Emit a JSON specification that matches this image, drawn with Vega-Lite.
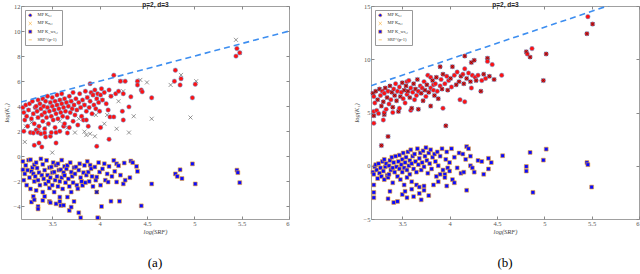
{
"$schema":"https://vega.github.io/schema/vega-lite/v6.json",
"padding":{"left":3,"top":1,"right":2,"bottom":0},
"resolve":{"scale":{"shape":"independent"},"legend":{"shape":"independent"}},
"config":{"view":{"stroke":null},"concat":{"spacing":63},
"axis":{"labelFont":"Liberation Serif","labelFontSize":6.5,"labelColor":"#555","tickColor":"#888","domainColor":"#888","domainWidth":0.8,"tickSize":-3,"labelPadding":4,"titleFont":"Liberation Serif","titleFontSize":6.5,"titleFontStyle":"italic","titleFontWeight":"normal","titleColor":"#444","grid":false,"format":"~g"},
"title":{"font":"Liberation Serif","fontSize":13,"fontWeight":"normal","color":"#000","orient":"bottom","offset":22},
"legend":{"title":null,"orient":"top-left","offset":4,"padding":3,"strokeColor":"#999","fillColor":"white","labelFont":"Liberation Serif","labelFontSize":4.5,"labelColor":"#333","symbolSize":10,"rowPadding":1.2,"labelOffset":5,"symbolStrokeWidth":0.6}},
"datasets":{
"aKs":[{"x":3.19,"y":3.9},{"x":3.2,"y":3.5},{"x":3.2,"y":2.0},{"x":3.21,"y":2.9},{"x":3.22,"y":4.1},{"x":3.23,"y":3.2},{"x":3.24,"y":2.4},{"x":3.25,"y":3.7},{"x":3.26,"y":4.2},{"x":3.27,"y":1.9},{"x":3.28,"y":3.0},{"x":3.29,"y":4.4},{"x":3.3,"y":3.4},{"x":3.3,"y":1.87},{"x":3.31,"y":2.6},{"x":3.31,"y":0.88},{"x":3.32,"y":3.9},{"x":3.33,"y":4.0},{"x":3.33,"y":2.1},{"x":3.34,"y":3.6},{"x":3.35,"y":4.5},{"x":3.35,"y":3.1},{"x":3.35,"y":1.9},{"x":3.36,"y":2.4},{"x":3.36,"y":1.07},{"x":3.37,"y":4.2},{"x":3.38,"y":3.8},{"x":3.38,"y":1.8},{"x":3.39,"y":3.3},{"x":3.39,"y":0.75},{"x":3.4,"y":4.6},{"x":3.4,"y":2.8},{"x":3.41,"y":4.0},{"x":3.42,"y":3.5},{"x":3.42,"y":2.2},{"x":3.42,"y":1.87},{"x":3.43,"y":4.4},{"x":3.43,"y":1.55},{"x":3.44,"y":3.1},{"x":3.45,"y":3.9},{"x":3.45,"y":4.8},{"x":3.46,"y":2.6},{"x":3.47,"y":3.6},{"x":3.48,"y":4.3},{"x":3.48,"y":1.6},{"x":3.49,"y":3.2},{"x":3.49,"y":1.9},{"x":3.5,"y":4.0},{"x":3.5,"y":4.7},{"x":3.51,"y":2.9},{"x":3.52,"y":3.7},{"x":3.53,"y":4.4},{"x":3.53,"y":2.3},{"x":3.54,"y":3.4},{"x":3.54,"y":1.9},{"x":3.54,"y":1.07},{"x":3.55,"y":4.1},{"x":3.55,"y":4.9},{"x":3.56,"y":3.0},{"x":3.57,"y":3.8},{"x":3.58,"y":4.5},{"x":3.58,"y":2.0},{"x":3.59,"y":3.5},{"x":3.6,"y":4.2},{"x":3.6,"y":5.0},{"x":3.61,"y":3.2},{"x":3.62,"y":3.9},{"x":3.62,"y":2.4},{"x":3.63,"y":4.6},{"x":3.63,"y":2.6},{"x":3.64,"y":3.6},{"x":3.65,"y":4.3},{"x":3.66,"y":3.1},{"x":3.66,"y":1.87},{"x":3.67,"y":4.0},{"x":3.68,"y":4.8},{"x":3.68,"y":2.3},{"x":3.69,"y":3.5},{"x":3.7,"y":4.4},{"x":3.71,"y":3.8},{"x":3.72,"y":5.1},{"x":3.72,"y":2.8},{"x":3.73,"y":4.1},{"x":3.74,"y":3.3},{"x":3.75,"y":4.6},{"x":3.76,"y":3.7},{"x":3.77,"y":2.5},{"x":3.78,"y":4.3},{"x":3.79,"y":5.0},{"x":3.8,"y":3.9},{"x":3.81,"y":3.2},{"x":3.82,"y":4.5},{"x":3.83,"y":2.9},{"x":3.84,"y":4.1},{"x":3.85,"y":5.2},{"x":3.86,"y":3.6},{"x":3.86,"y":2.9},{"x":3.87,"y":4.7},{"x":3.88,"y":2.4},{"x":3.89,"y":3.9},{"x":3.9,"y":4.4},{"x":3.9,"y":5.8},{"x":3.91,"y":5.1},{"x":3.92,"y":3.4},{"x":3.93,"y":4.9},{"x":3.94,"y":4.1},{"x":3.95,"y":5.3},{"x":3.96,"y":3.8},{"x":3.97,"y":4.6},{"x":3.97,"y":0.8},{"x":3.98,"y":5.0},{"x":3.99,"y":4.3},{"x":4.0,"y":3.6},{"x":4.01,"y":4.9},{"x":4.01,"y":2.3},{"x":4.02,"y":5.4},{"x":4.03,"y":4.5},{"x":4.05,"y":5.1},{"x":4.07,"y":4.2},{"x":4.09,"y":3.7},{"x":4.1,"y":5.3},{"x":4.1,"y":1.36},{"x":4.11,"y":3.15},{"x":4.12,"y":4.8},{"x":4.15,"y":3.15},{"x":4.15,"y":6.48},{"x":4.17,"y":5.0},{"x":4.2,"y":5.2},{"x":4.22,"y":6.0},{"x":4.24,"y":3.6},{"x":4.25,"y":2.9},{"x":4.25,"y":5.0},{"x":4.27,"y":6.0},{"x":4.31,"y":3.95},{"x":4.33,"y":4.75},{"x":4.4,"y":6.0},{"x":4.4,"y":5.7},{"x":4.44,"y":5.3},{"x":4.45,"y":5.15},{"x":4.55,"y":4.67},{"x":4.79,"y":6.0},{"x":4.8,"y":6.88},{"x":4.85,"y":5.7},{"x":4.86,"y":6.2},{"x":4.98,"y":4.67},{"x":5.01,"y":5.76},{"x":5.44,"y":8.0},{"x":5.45,"y":8.6},{"x":5.48,"y":8.26}],
"aKss":[{"x":3.25,"y":3.7},{"x":3.3,"y":3.4},{"x":3.35,"y":3.1},{"x":3.4,"y":4.6},{"x":3.42,"y":3.5},{"x":3.45,"y":3.9},{"x":3.48,"y":4.3},{"x":3.52,"y":3.7},{"x":3.55,"y":4.1},{"x":3.58,"y":4.5},{"x":3.6,"y":4.2},{"x":3.63,"y":4.6},{"x":3.65,"y":4.3},{"x":3.67,"y":4.0},{"x":3.7,"y":4.4},{"x":3.73,"y":4.1},{"x":3.76,"y":3.7},{"x":3.8,"y":3.9},{"x":3.84,"y":4.1},{"x":3.87,"y":4.7},{"x":3.93,"y":4.9},{"x":3.97,"y":4.6},{"x":4.03,"y":4.5},{"x":4.12,"y":4.8},{"x":4.22,"y":6.0},{"x":4.43,"y":6.1},{"x":4.86,"y":6.5},{"x":5.02,"y":6.0},{"x":5.48,"y":8.26},{"x":5.44,"y":9.3},{"x":3.22,"y":2.4},{"x":3.21,"y":1.15},{"x":3.28,"y":2.7},{"x":3.36,"y":2.2},{"x":3.45,"y":2.5},{"x":3.58,"y":2.8},{"x":3.66,"y":2.3},{"x":3.74,"y":1.9},{"x":3.78,"y":3.0},{"x":3.84,"y":1.97},{"x":3.86,"y":1.7},{"x":3.9,"y":1.8},{"x":3.95,"y":1.6},{"x":3.96,"y":3.3},{"x":4.05,"y":2.6},{"x":4.08,"y":3.3},{"x":4.18,"y":2.2},{"x":4.31,"y":1.9},{"x":4.36,"y":3.2},{"x":4.55,"y":3.0},{"x":4.96,"y":3.1},{"x":3.97,"y":-2.85},{"x":3.5,"y":0.3},{"x":4.25,"y":5.2},{"x":4.5,"y":5.9},{"x":4.2,"y":4.4},{"x":4.75,"y":5.7}],
"aKws":[{"x":3.19,"y":-1.07},{"x":3.19,"y":-0.4},{"x":3.2,"y":-1.9},{"x":3.21,"y":-1.4},{"x":3.22,"y":-0.72},{"x":3.23,"y":-2.3},{"x":3.24,"y":-1.1},{"x":3.25,"y":-0.3},{"x":3.26,"y":-1.7},{"x":3.27,"y":-0.27},{"x":3.27,"y":-2.6},{"x":3.28,"y":-3.65},{"x":3.28,"y":-1.2},{"x":3.29,"y":-0.9},{"x":3.3,"y":-1.39},{"x":3.3,"y":-3.2},{"x":3.31,"y":-0.67},{"x":3.31,"y":-3.47},{"x":3.31,"y":-2.0},{"x":3.32,"y":-1.6},{"x":3.33,"y":-2.72},{"x":3.33,"y":-0.5},{"x":3.34,"y":-0.93},{"x":3.35,"y":-4.0},{"x":3.35,"y":-4.2},{"x":3.35,"y":-1.9},{"x":3.36,"y":-1.3},{"x":3.37,"y":-2.3},{"x":3.38,"y":-0.2},{"x":3.39,"y":-1.5},{"x":3.4,"y":-0.64},{"x":3.4,"y":-2.85},{"x":3.4,"y":-3.52},{"x":3.41,"y":-1.8},{"x":3.42,"y":-1.1},{"x":3.42,"y":-3.2},{"x":3.43,"y":-2.2},{"x":3.44,"y":-0.32},{"x":3.45,"y":-1.5},{"x":3.46,"y":-2.0},{"x":3.47,"y":-2.53},{"x":3.47,"y":-3.6},{"x":3.47,"y":-0.9},{"x":3.48,"y":-1.7},{"x":3.48,"y":-3.7},{"x":3.49,"y":-0.85},{"x":3.5,"y":-1.3},{"x":3.5,"y":-2.3},{"x":3.51,"y":-0.5},{"x":3.52,"y":-1.25},{"x":3.52,"y":-2.85},{"x":3.53,"y":-1.9},{"x":3.54,"y":-3.79},{"x":3.54,"y":-0.7},{"x":3.55,"y":-1.6},{"x":3.56,"y":-0.59},{"x":3.56,"y":-2.4},{"x":3.57,"y":-1.1},{"x":3.58,"y":-3.25},{"x":3.58,"y":-3.6},{"x":3.58,"y":-2.0},{"x":3.59,"y":-1.07},{"x":3.59,"y":-3.92},{"x":3.6,"y":-1.7},{"x":3.6,"y":-0.3},{"x":3.61,"y":-2.6},{"x":3.62,"y":-1.3},{"x":3.62,"y":-3.9},{"x":3.63,"y":-1.52},{"x":3.63,"y":-0.8},{"x":3.64,"y":-2.1},{"x":3.65,"y":-1.0},{"x":3.66,"y":-0.72},{"x":3.66,"y":-3.25},{"x":3.67,"y":-1.8},{"x":3.68,"y":-4.32},{"x":3.68,"y":-2.4},{"x":3.69,"y":-0.5},{"x":3.7,"y":-1.25},{"x":3.7,"y":-2.85},{"x":3.7,"y":-4.05},{"x":3.71,"y":-1.6},{"x":3.72,"y":-2.1},{"x":3.73,"y":-3.6},{"x":3.73,"y":-0.9},{"x":3.74,"y":-1.4},{"x":3.75,"y":-0.85},{"x":3.76,"y":-2.3},{"x":3.77,"y":-2.59},{"x":3.78,"y":-1.1},{"x":3.78,"y":-4.5},{"x":3.79,"y":-0.59},{"x":3.8,"y":-4.9},{"x":3.8,"y":-1.7},{"x":3.81,"y":-2.0},{"x":3.82,"y":-2.32},{"x":3.83,"y":-1.3},{"x":3.84,"y":-0.72},{"x":3.85,"y":-2.1},{"x":3.86,"y":-1.5},{"x":3.87,"y":-0.4},{"x":3.88,"y":-1.25},{"x":3.89,"y":-2.0},{"x":3.9,"y":-0.7},{"x":3.91,"y":-0.99},{"x":3.92,"y":-1.6},{"x":3.93,"y":-2.4},{"x":3.95,"y":-0.85},{"x":3.96,"y":-1.9},{"x":3.97,"y":-1.65},{"x":3.97,"y":-2.85},{"x":3.98,"y":-4.9},{"x":3.99,"y":-0.5},{"x":4.0,"y":-1.25},{"x":4.01,"y":-2.3},{"x":4.02,"y":-4.0},{"x":4.03,"y":-1.0},{"x":4.05,"y":-0.59},{"x":4.06,"y":-1.9},{"x":4.08,"y":-1.4},{"x":4.09,"y":-2.05},{"x":4.1,"y":-0.8},{"x":4.12,"y":-3.58},{"x":4.13,"y":-1.6},{"x":4.15,"y":-0.32},{"x":4.16,"y":-1.2},{"x":4.18,"y":-0.59},{"x":4.18,"y":-2.05},{"x":4.2,"y":-0.75},{"x":4.21,"y":-3.58},{"x":4.22,"y":-1.5},{"x":4.25,"y":-2.2},{"x":4.26,"y":-0.53},{"x":4.27,"y":-1.9},{"x":4.32,"y":-1.7},{"x":4.33,"y":-0.37},{"x":4.35,"y":-0.5},{"x":4.39,"y":-0.8},{"x":4.4,"y":-1.2},{"x":4.44,"y":-3.95},{"x":4.55,"y":-2.2},{"x":4.8,"y":-1.4},{"x":4.82,"y":-1.6},{"x":4.85,"y":-1.07},{"x":4.87,"y":-1.77},{"x":4.98,"y":-0.6},{"x":5.01,"y":-2.2},{"x":5.45,"y":-1.1},{"x":5.46,"y":-1.3},{"x":5.48,"y":-2.1}],
"aLine":[{"x":3.17,"y":4.34},{"x":6,"y":10}],
"bKs":[{"x":3.19,"y":6.8},{"x":3.2,"y":6.5},{"x":3.2,"y":4.7},{"x":3.2,"y":4.0},{"x":3.2,"y":5.1},{"x":3.21,"y":5.9},{"x":3.22,"y":7.0},{"x":3.23,"y":5.2},{"x":3.24,"y":6.2},{"x":3.25,"y":4.9},{"x":3.26,"y":7.2},{"x":3.27,"y":6.6},{"x":3.28,"y":5.6},{"x":3.28,"y":1.9},{"x":3.29,"y":7.0},{"x":3.3,"y":6.0},{"x":3.3,"y":4.3},{"x":3.31,"y":6.8},{"x":3.31,"y":4.8},{"x":3.31,"y":5.0},{"x":3.32,"y":7.3},{"x":3.33,"y":5.3},{"x":3.34,"y":6.4},{"x":3.35,"y":7.0},{"x":3.35,"y":2.75},{"x":3.36,"y":5.8},{"x":3.37,"y":7.5},{"x":3.38,"y":6.2},{"x":3.39,"y":6.9},{"x":3.4,"y":5.5},{"x":3.4,"y":5.0},{"x":3.41,"y":7.2},{"x":3.42,"y":6.6},{"x":3.43,"y":7.7},{"x":3.44,"y":6.1},{"x":3.45,"y":7.0},{"x":3.46,"y":5.1},{"x":3.47,"y":7.4},{"x":3.47,"y":5.4},{"x":3.48,"y":6.5},{"x":3.49,"y":6.9},{"x":3.5,"y":7.8},{"x":3.51,"y":6.3},{"x":3.52,"y":7.1},{"x":3.53,"y":5.9},{"x":3.54,"y":7.5},{"x":3.55,"y":6.7},{"x":3.55,"y":7.9},{"x":3.56,"y":7.0},{"x":3.57,"y":8.0},{"x":3.58,"y":6.4},{"x":3.59,"y":7.3},{"x":3.59,"y":5.2},{"x":3.6,"y":5.4},{"x":3.61,"y":6.9},{"x":3.62,"y":7.7},{"x":3.63,"y":6.2},{"x":3.64,"y":7.2},{"x":3.65,"y":6.6},{"x":3.66,"y":8.1},{"x":3.67,"y":7.0},{"x":3.67,"y":5.3},{"x":3.69,"y":7.5},{"x":3.7,"y":6.8},{"x":3.71,"y":7.3},{"x":3.72,"y":6.1},{"x":3.73,"y":7.9},{"x":3.74,"y":7.1},{"x":3.75,"y":6.5},{"x":3.76,"y":7.6},{"x":3.77,"y":8.5},{"x":3.78,"y":6.9},{"x":3.8,"y":7.3},{"x":3.8,"y":5.6},{"x":3.8,"y":8.3},{"x":3.82,"y":8.0},{"x":3.83,"y":7.1},{"x":3.83,"y":7.6},{"x":3.84,"y":6.6},{"x":3.85,"y":7.7},{"x":3.86,"y":8.3},{"x":3.87,"y":7.0},{"x":3.88,"y":6.3},{"x":3.9,"y":7.5},{"x":3.9,"y":9.3},{"x":3.91,"y":8.1},{"x":3.92,"y":7.2},{"x":3.93,"y":5.4},{"x":3.93,"y":8.6},{"x":3.95,"y":7.7},{"x":3.96,"y":3.75},{"x":3.97,"y":8.4},{"x":3.98,"y":7.1},{"x":3.99,"y":8.0},{"x":4.01,"y":8.2},{"x":4.02,"y":7.4},{"x":4.03,"y":9.3},{"x":4.05,"y":8.5},{"x":4.07,"y":7.6},{"x":4.08,"y":8.8},{"x":4.1,"y":7.9},{"x":4.11,"y":6.2},{"x":4.12,"y":8.4},{"x":4.14,"y":8.6},{"x":4.15,"y":7.7},{"x":4.16,"y":9.1},{"x":4.16,"y":10.3},{"x":4.16,"y":6.0},{"x":4.18,"y":8.2},{"x":4.2,"y":8.7},{"x":4.22,"y":7.9},{"x":4.23,"y":9.7},{"x":4.23,"y":7.3},{"x":4.24,"y":8.5},{"x":4.26,"y":9.9},{"x":4.27,"y":8.3},{"x":4.28,"y":8.0},{"x":4.3,"y":8.5},{"x":4.33,"y":7.0},{"x":4.34,"y":8.0},{"x":4.36,"y":8.6},{"x":4.38,"y":8.2},{"x":4.4,"y":10.1},{"x":4.4,"y":9.8},{"x":4.42,"y":8.4},{"x":4.45,"y":9.5},{"x":4.47,"y":8.1},{"x":4.55,"y":8.5},{"x":4.81,"y":10.7},{"x":4.82,"y":10.5},{"x":4.85,"y":10.2},{"x":4.87,"y":11.0},{"x":4.99,"y":8.0},{"x":5.02,"y":10.5},{"x":5.45,"y":12.4},{"x":5.46,"y":14.0},{"x":5.51,"y":13.3}],
"bKss":[{"x":3.19,"y":6.8},{"x":3.2,"y":4.7},{"x":3.22,"y":7.0},{"x":3.24,"y":6.2},{"x":3.26,"y":7.2},{"x":3.28,"y":5.6},{"x":3.28,"y":1.9},{"x":3.3,"y":6.0},{"x":3.31,"y":4.8},{"x":3.32,"y":7.3},{"x":3.34,"y":6.4},{"x":3.35,"y":2.75},{"x":3.37,"y":7.5},{"x":3.39,"y":6.9},{"x":3.4,"y":5.5},{"x":3.42,"y":6.6},{"x":3.44,"y":6.1},{"x":3.46,"y":5.1},{"x":3.48,"y":6.5},{"x":3.5,"y":7.8},{"x":3.52,"y":7.1},{"x":3.54,"y":7.5},{"x":3.56,"y":7.0},{"x":3.58,"y":6.4},{"x":3.6,"y":5.4},{"x":3.62,"y":7.7},{"x":3.64,"y":7.2},{"x":3.66,"y":8.1},{"x":3.67,"y":5.3},{"x":3.7,"y":6.8},{"x":3.72,"y":6.1},{"x":3.74,"y":7.1},{"x":3.76,"y":7.6},{"x":3.78,"y":6.9},{"x":3.8,"y":5.6},{"x":3.82,"y":8.0},{"x":3.84,"y":6.6},{"x":3.86,"y":8.3},{"x":3.88,"y":6.3},{"x":3.9,"y":9.3},{"x":3.92,"y":7.2},{"x":3.93,"y":8.6},{"x":3.96,"y":3.75},{"x":3.98,"y":7.1},{"x":4.01,"y":8.2},{"x":4.03,"y":9.3},{"x":4.07,"y":7.6},{"x":4.1,"y":7.9},{"x":4.12,"y":8.4},{"x":4.15,"y":7.7},{"x":4.16,"y":10.3},{"x":4.18,"y":8.2},{"x":4.22,"y":7.9},{"x":4.23,"y":9.7},{"x":4.26,"y":9.9},{"x":4.28,"y":8.0},{"x":4.33,"y":7.0},{"x":4.36,"y":8.6},{"x":4.4,"y":10.1},{"x":4.42,"y":8.4},{"x":4.47,"y":8.1},{"x":4.81,"y":10.7},{"x":4.85,"y":10.2},{"x":4.99,"y":8.0},{"x":5.02,"y":10.5},{"x":5.45,"y":12.4},{"x":5.51,"y":13.3}],
"bKws":[{"x":3.19,"y":-0.6},{"x":3.2,"y":-0.8},{"x":3.2,"y":-1.8},{"x":3.2,"y":-2.5},{"x":3.2,"y":-3.0},{"x":3.21,"y":-0.1},{"x":3.22,"y":0.1},{"x":3.23,"y":-0.4},{"x":3.24,"y":-1.2},{"x":3.25,"y":0.2},{"x":3.26,"y":-0.7},{"x":3.27,"y":-0.2},{"x":3.28,"y":-1.0},{"x":3.29,"y":0.4},{"x":3.3,"y":-0.5},{"x":3.31,"y":-1.3},{"x":3.31,"y":0.6},{"x":3.32,"y":-0.1},{"x":3.33,"y":0.2},{"x":3.34,"y":-0.9},{"x":3.35,"y":-1.1},{"x":3.35,"y":-3.1},{"x":3.36,"y":0.0},{"x":3.36,"y":-0.8},{"x":3.37,"y":-2.4},{"x":3.37,"y":0.5},{"x":3.38,"y":-0.4},{"x":3.39,"y":0.8},{"x":3.4,"y":-0.2},{"x":3.4,"y":-1.6},{"x":3.41,"y":-3.45},{"x":3.41,"y":0.3},{"x":3.42,"y":-0.6},{"x":3.43,"y":0.9},{"x":3.44,"y":-0.1},{"x":3.45,"y":-3.35},{"x":3.45,"y":-1.0},{"x":3.46,"y":0.4},{"x":3.47,"y":-0.3},{"x":3.47,"y":1.0},{"x":3.48,"y":-1.3},{"x":3.49,"y":0.1},{"x":3.5,"y":0.6},{"x":3.5,"y":-0.6},{"x":3.5,"y":-2.7},{"x":3.51,"y":1.2},{"x":3.52,"y":-1.8},{"x":3.52,"y":-0.2},{"x":3.53,"y":-2.4},{"x":3.53,"y":0.3},{"x":3.54,"y":0.8},{"x":3.55,"y":-0.4},{"x":3.55,"y":-1.1},{"x":3.55,"y":-3.0},{"x":3.56,"y":1.3},{"x":3.57,"y":0.0},{"x":3.58,"y":0.5},{"x":3.58,"y":-0.8},{"x":3.59,"y":1.5},{"x":3.6,"y":-1.5},{"x":3.6,"y":-2.2},{"x":3.6,"y":0.2},{"x":3.61,"y":0.9},{"x":3.62,"y":-0.3},{"x":3.62,"y":-2.9},{"x":3.63,"y":1.1},{"x":3.64,"y":0.4},{"x":3.65,"y":-1.8},{"x":3.65,"y":-0.6},{"x":3.66,"y":1.6},{"x":3.67,"y":0.1},{"x":3.68,"y":-2.0},{"x":3.68,"y":-2.6},{"x":3.68,"y":0.7},{"x":3.69,"y":1.2},{"x":3.7,"y":-0.4},{"x":3.7,"y":-3.2},{"x":3.71,"y":0.3},{"x":3.72,"y":1.4},{"x":3.73,"y":-1.9},{"x":3.73,"y":-2.3},{"x":3.73,"y":-0.1},{"x":3.74,"y":0.9},{"x":3.75,"y":1.7},{"x":3.76,"y":0.5},{"x":3.77,"y":-0.7},{"x":3.78,"y":1.2},{"x":3.78,"y":-2.8},{"x":3.79,"y":0.2},{"x":3.8,"y":1.5},{"x":3.81,"y":-0.3},{"x":3.82,"y":0.8},{"x":3.83,"y":-1.8},{"x":3.84,"y":1.1},{"x":3.85,"y":0.4},{"x":3.86,"y":-1.0},{"x":3.87,"y":1.3},{"x":3.88,"y":0.0},{"x":3.88,"y":-1.5},{"x":3.9,"y":-0.8},{"x":3.9,"y":0.9},{"x":3.92,"y":1.6},{"x":3.93,"y":-0.4},{"x":3.95,"y":-0.8},{"x":3.95,"y":-1.1},{"x":3.96,"y":0.6},{"x":3.97,"y":1.3},{"x":3.97,"y":-1.9},{"x":3.98,"y":-0.2},{"x":4.0,"y":-0.5},{"x":4.0,"y":0.3},{"x":4.02,"y":1.6},{"x":4.03,"y":-1.3},{"x":4.05,"y":0.8},{"x":4.05,"y":-1.6},{"x":4.08,"y":-0.2},{"x":4.1,"y":1.2},{"x":4.12,"y":-0.7},{"x":4.14,"y":1.1},{"x":4.15,"y":-0.6},{"x":4.17,"y":0.6},{"x":4.18,"y":1.8},{"x":4.18,"y":-2.3},{"x":4.2,"y":1.6},{"x":4.22,"y":0.9},{"x":4.22,"y":0.0},{"x":4.24,"y":-0.2},{"x":4.26,"y":-0.6},{"x":4.3,"y":0.5},{"x":4.34,"y":0.4},{"x":4.36,"y":-0.8},{"x":4.41,"y":0.7},{"x":4.41,"y":-0.3},{"x":4.44,"y":0.3},{"x":4.56,"y":0.94},{"x":4.81,"y":-0.07},{"x":4.81,"y":-0.5},{"x":4.85,"y":1.25},{"x":4.88,"y":-2.5},{"x":4.99,"y":0.53},{"x":5.02,"y":1.56},{"x":5.45,"y":0.3},{"x":5.46,"y":0.1},{"x":5.5,"y":-2.0}],
"bLine":[{"x":3.17,"y":7.51},{"x":6,"y":16}]
},
"hconcat":[
{"width":268,"height":213,"title":{"text":"(a)"},
"resolve":{"axis":{"x":"independent","y":"independent"}},
"layer":[
{"data":{"name":"aKws"},
"mark":{"type":"point","filled":true,"fill":"#0a0aff","stroke":"#f5a623","strokeWidth":0.6,"size":15,"opacity":1},
"encoding":{"x":{"field":"x","type":"quantitative","scale":{"domain":[3.17,6],"nice":false,"zero":false},"axis":{"values":[3.5,4,4.5,5,5.5,6],"title":"log(SRF)","titlePadding":2}},
"y":{"field":"y","type":"quantitative","scale":{"domain":[-5,12],"nice":false,"zero":false},"axis":{"values":[-4,-2,0,2,4,6,8,10,12],"title":"log(K₁)","titlePadding":4}},
"shape":{"datum":"Kws","type":"nominal","scale":{"domain":["Ks","Kss","Kws","SRF"],"range":["circle","M-1,-1L1,1M1,-1L-1,1","square","stroke"]},
"legend":{"labelExpr":"datum.label==='Ks' ? 'MP Kₛ,₁' : datum.label==='Kss' ? 'MP Kₛₛ,₁' : datum.label==='Kws' ? 'MP K_ws,₁' : 'SRF^(p-1)'",
"encode":{"symbols":{
"fill":{"condition":[{"test":"datum.value==='Ks'","value":"#ff1111"},{"test":"datum.value==='Kws'","value":"#0a0aff"}],"value":"transparent"},
"stroke":{"condition":[{"test":"datum.value==='Ks'","value":"#5aa8e8"},{"test":"datum.value==='Kws'","value":"#f5a623"},{"test":"datum.value==='Kss'","value":"#333333"}],"value":"#3d8ef0"},
"strokeDash":{"condition":{"test":"datum.value==='SRF'","value":[3,2]},"value":[1,0]},
"strokeWidth":{"condition":{"test":"datum.value==='SRF'","value":1.5},"value":0.6},
"size":{"condition":{"test":"datum.value==='SRF'","value":120},"value":12},
"opacity":{"value":1}}}}}}},
{"data":{"name":"aKss"},
"mark":{"type":"point","filled":false,"stroke":"#333","strokeWidth":0.6,"size":16,"opacity":0.85},
"encoding":{"x":{"field":"x","type":"quantitative","axis":null},"y":{"field":"y","type":"quantitative","axis":null},"shape":{"datum":"Kss","type":"nominal"}}},
{"data":{"name":"aKs"},
"mark":{"type":"point","filled":true,"fill":"#ff1111","stroke":"#5aa8e8","strokeWidth":0.5,"size":20,"opacity":1},
"encoding":{"x":{"field":"x","type":"quantitative","axis":null},"y":{"field":"y","type":"quantitative","axis":null},"shape":{"datum":"Ks","type":"nominal"}}},
{"data":{"name":"aLine"},
"mark":{"type":"line","stroke":"#3d8ef0","strokeWidth":1.6,"strokeDash":[6,4],"clip":true},
"encoding":{"x":{"field":"x","type":"quantitative","axis":{"orient":"top","values":[3.5,4,4.5,5,5.5,6],"labels":false,"title":"p=2, d=3","titleFont":"Liberation Sans","titleFontStyle":"normal","titleFontWeight":"bold","titleFontSize":6.5,"titleColor":"#222","titleY":-2,"titleBaseline":"middle"}},
"y":{"field":"y","type":"quantitative","axis":{"orient":"right","values":[-4,-2,0,2,4,6,8,10,12],"labels":false,"title":null}}}}
]},
{"width":268,"height":213,"title":{"text":"(b)"},
"resolve":{"axis":{"x":"independent","y":"independent"}},
"layer":[
{"data":{"name":"bKws"},
"mark":{"type":"point","filled":true,"fill":"#0a0aff","stroke":"#f5a623","strokeWidth":0.6,"size":15,"opacity":1},
"encoding":{"x":{"field":"x","type":"quantitative","scale":{"domain":[3.17,6],"nice":false,"zero":false},"axis":{"values":[3.5,4,4.5,5,5.5,6],"title":"log(SRF)","titlePadding":2}},
"y":{"field":"y","type":"quantitative","scale":{"domain":[-5,15],"nice":false,"zero":false},"axis":{"values":[-5,0,5,10,15],"title":"log(K₁)","titlePadding":4}},
"shape":{"datum":"Kws","type":"nominal","scale":{"domain":["Ks","Kss","Kws","SRF"],"range":["circle","M-1,-1L1,1M1,-1L-1,1","square","stroke"]},
"legend":{"labelExpr":"datum.label==='Ks' ? 'MP Kₛ,₁' : datum.label==='Kss' ? 'MP Kₛₛ,₁' : datum.label==='Kws' ? 'MP K_ws,₁' : 'SRF^(p-1)'",
"encode":{"symbols":{
"fill":{"condition":[{"test":"datum.value==='Ks'","value":"#ff1111"},{"test":"datum.value==='Kws'","value":"#0a0aff"}],"value":"transparent"},
"stroke":{"condition":[{"test":"datum.value==='Ks'","value":"#5aa8e8"},{"test":"datum.value==='Kws'","value":"#f5a623"},{"test":"datum.value==='Kss'","value":"#333333"}],"value":"#3d8ef0"},
"strokeDash":{"condition":{"test":"datum.value==='SRF'","value":[3,2]},"value":[1,0]},
"strokeWidth":{"condition":{"test":"datum.value==='SRF'","value":1.5},"value":0.6},
"size":{"condition":{"test":"datum.value==='SRF'","value":120},"value":12},
"opacity":{"value":1}}}}}}},
{"data":{"name":"bKs"},
"mark":{"type":"point","filled":true,"fill":"#ff1111","stroke":"#5aa8e8","strokeWidth":0.5,"size":20,"opacity":1},
"encoding":{"x":{"field":"x","type":"quantitative","axis":null},"y":{"field":"y","type":"quantitative","axis":null},"shape":{"datum":"Ks","type":"nominal"}}},
{"data":{"name":"bKss"},
"mark":{"type":"point","filled":false,"stroke":"#222","strokeWidth":0.6,"size":14,"opacity":0.9},
"encoding":{"x":{"field":"x","type":"quantitative","axis":null},"y":{"field":"y","type":"quantitative","axis":null},"shape":{"datum":"Kss","type":"nominal"}}},
{"data":{"name":"bLine"},
"mark":{"type":"line","stroke":"#3d8ef0","strokeWidth":1.6,"strokeDash":[6,4],"clip":true},
"encoding":{"x":{"field":"x","type":"quantitative","axis":{"orient":"top","values":[3.5,4,4.5,5,5.5,6],"labels":false,"title":"p=2, d=3","titleFont":"Liberation Sans","titleFontStyle":"normal","titleFontWeight":"bold","titleFontSize":6.5,"titleColor":"#222","titleY":-2,"titleBaseline":"middle"}},
"y":{"field":"y","type":"quantitative","axis":{"orient":"right","values":[-5,0,5,10,15],"labels":false,"title":null}}}}
]}
]
}
